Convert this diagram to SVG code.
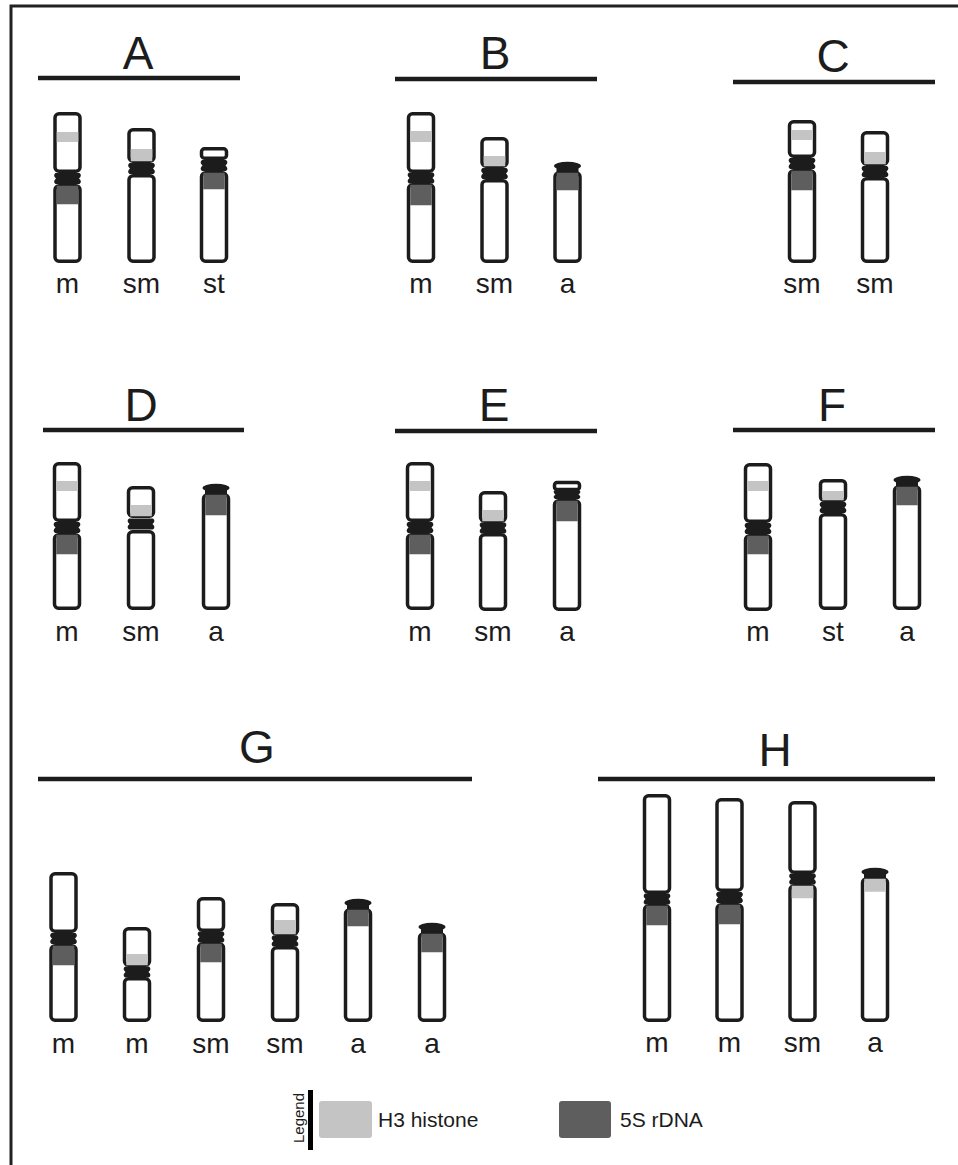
<svg xmlns="http://www.w3.org/2000/svg" xmlns:xlink="http://www.w3.org/1999/xlink" width="958" height="1165" viewBox="0 0 958 1165">
  <style>
    .arm { fill: #ffffff; stroke: #1c1c1c; stroke-width: 3.5; }
    .h3 { fill: #c4c4c4; }
    .s5 { fill: #5e5e5e; }
    .dark { fill: #1c1c1c; }
    .rule { stroke: #1c1c1c; stroke-width: 4.5; }
    .title { font-family: "Liberation Sans", Arial, sans-serif; font-size: 46px; fill: #1c1c1c; text-anchor: middle; }
    .lbl { font-family: "Liberation Sans", Arial, sans-serif; font-size: 28px; fill: #1c1c1c; text-anchor: middle; }
    .leg { font-family: "Liberation Sans", Arial, sans-serif; font-size: 21px; fill: #1c1c1c; }
  </style>
  <defs>
    <!-- centromere constriction, centred on (0,0) -->
    <path id="cen" class="dark" d="M-12,-5.5 H12 Q15,-3 11.5,0 Q15,3 12,5.5 H-12 Q-15,3 -11.5,0 Q-15,-3 -12,-5.5 Z"/>
    <!-- terminal cap of an acrocentric chromosome, bottom edge at y=0 -->
    <g id="cap" class="dark">
      <ellipse cx="0" cy="-5" rx="13.5" ry="4.2"/>
      <rect x="-11" y="-5" width="22" height="6"/>
    </g>
  </defs>

  <rect x="0" y="0" width="958" height="1165" fill="#ffffff"/>
  <path d="M11,1165 V6 H958" fill="none" stroke="#222222" stroke-width="3"/>

  <!-- ===== A ===== -->
  <g id="panel-A">
    <text class="title" x="138" y="69">A</text>
    <line class="rule" x1="38" y1="78" x2="240" y2="78"/>
    <g id="A-m">
      <rect class="arm" x="55" y="113.75" width="25" height="57.5" rx="4"/>
      <rect class="h3" x="56.75" y="132" width="21.5" height="10"/>
      <rect class="arm" x="55" y="185.75" width="25" height="75.5" rx="4"/>
      <rect class="s5" x="56.75" y="185.75" width="21.5" height="18.5"/>
      <use xlink:href="#cen" transform="translate(67.5,178.5)"/>
      <text class="lbl" x="67.5" y="293">m</text>
    </g>
    <g id="A-sm">
      <rect class="arm" x="129" y="129.75" width="25" height="31.5" rx="4"/>
      <rect class="h3" x="130.75" y="149" width="21.5" height="12.25"/>
      <rect class="arm" x="129" y="175.75" width="25" height="85.5" rx="4"/>
      <use xlink:href="#cen" transform="translate(141.5,168.5)"/>
      <text class="lbl" x="141.5" y="293">sm</text>
    </g>
    <g id="A-st">
      <rect class="arm" x="201.5" y="148.75" width="25" height="9.5" rx="3"/>
      <rect class="arm" x="201.5" y="172.75" width="25" height="88.5" rx="4"/>
      <rect class="s5" x="203.25" y="172.75" width="21.5" height="16.5"/>
      <use xlink:href="#cen" transform="translate(214,165.5)"/>
      <text class="lbl" x="214" y="293">st</text>
    </g>
  </g>

  <!-- ===== B ===== -->
  <g id="panel-B">
    <text class="title" x="495" y="69">B</text>
    <line class="rule" x1="395" y1="79" x2="597" y2="79"/>
    <g id="B-m">
      <rect class="arm" x="408.5" y="113.75" width="25" height="57.5" rx="4"/>
      <rect class="h3" x="410.25" y="131" width="21.5" height="11"/>
      <rect class="arm" x="408.5" y="184.75" width="25" height="76.5" rx="4"/>
      <rect class="s5" x="410.25" y="184.75" width="21.5" height="20.5"/>
      <use xlink:href="#cen" transform="translate(421,178)"/>
      <text class="lbl" x="421" y="293">m</text>
    </g>
    <g id="B-sm">
      <rect class="arm" x="482" y="138.75" width="25" height="27.5" rx="4"/>
      <rect class="h3" x="483.75" y="156" width="21.5" height="10.25"/>
      <rect class="arm" x="482" y="180.75" width="25" height="80.5" rx="4"/>
      <use xlink:href="#cen" transform="translate(494.5,173.5)"/>
      <text class="lbl" x="494.5" y="293">sm</text>
    </g>
    <g id="B-a">
      <rect class="arm" x="555" y="172.75" width="25" height="88.5" rx="4"/>
      <rect class="s5" x="556.75" y="172.75" width="21.5" height="17.5"/>
      <use xlink:href="#cap" transform="translate(567.5,171)"/>
      <text class="lbl" x="567.5" y="293">a</text>
    </g>
  </g>

  <!-- ===== C ===== -->
  <g id="panel-C">
    <text class="title" x="833" y="72">C</text>
    <line class="rule" x1="733" y1="82" x2="935" y2="82"/>
    <g id="C-sm1">
      <rect class="arm" x="789.5" y="121.75" width="25" height="34.5" rx="4"/>
      <rect class="h3" x="791.25" y="130" width="21.5" height="10"/>
      <rect class="arm" x="789.5" y="170.75" width="25" height="90.5" rx="4"/>
      <rect class="s5" x="791.25" y="170.75" width="21.5" height="19.5"/>
      <use xlink:href="#cen" transform="translate(802,163.5)"/>
      <text class="lbl" x="802" y="293">sm</text>
    </g>
    <g id="C-sm2">
      <rect class="arm" x="862.5" y="132.75" width="25" height="31.5" rx="4"/>
      <rect class="h3" x="864.25" y="152" width="21.5" height="12.25"/>
      <rect class="arm" x="862.5" y="178.75" width="25" height="82.5" rx="4"/>
      <use xlink:href="#cen" transform="translate(875,171.5)"/>
      <text class="lbl" x="875" y="293">sm</text>
    </g>
  </g>

  <!-- ===== D ===== -->
  <g id="panel-D">
    <text class="title" x="141" y="421">D</text>
    <line class="rule" x1="43" y1="430" x2="244" y2="430"/>
    <g id="D-m">
      <rect class="arm" x="54.5" y="463.75" width="25" height="56.5" rx="4"/>
      <rect class="h3" x="56.25" y="481" width="21.5" height="10"/>
      <rect class="arm" x="54.5" y="534.75" width="25" height="73.5" rx="4"/>
      <rect class="s5" x="56.25" y="534.75" width="21.5" height="19.5"/>
      <use xlink:href="#cen" transform="translate(67,527.5)"/>
      <text class="lbl" x="67" y="641">m</text>
    </g>
    <g id="D-sm">
      <rect class="arm" x="128.5" y="487.75" width="25" height="28.5" rx="4"/>
      <rect class="h3" x="130.25" y="505" width="21.5" height="11.25"/>
      <rect class="arm" x="128.5" y="531.75" width="25" height="76.5" rx="4"/>
      <use xlink:href="#cen" transform="translate(141,524)"/>
      <text class="lbl" x="141" y="641">sm</text>
    </g>
    <g id="D-a">
      <rect class="arm" x="203.5" y="494.75" width="25" height="113.5" rx="4"/>
      <rect class="s5" x="205.25" y="494.75" width="21.5" height="20.5"/>
      <use xlink:href="#cap" transform="translate(216,493)"/>
      <text class="lbl" x="216" y="641">a</text>
    </g>
  </g>

  <!-- ===== E ===== -->
  <g id="panel-E">
    <text class="title" x="494" y="421">E</text>
    <line class="rule" x1="395" y1="431" x2="597" y2="431"/>
    <g id="E-m">
      <rect class="arm" x="407.5" y="463.75" width="25" height="56.5" rx="4"/>
      <rect class="h3" x="409.25" y="481" width="21.5" height="10"/>
      <rect class="arm" x="407.5" y="534.75" width="25" height="73.5" rx="4"/>
      <rect class="s5" x="409.25" y="534.75" width="21.5" height="19.5"/>
      <use xlink:href="#cen" transform="translate(420,527.5)"/>
      <text class="lbl" x="420" y="641">m</text>
    </g>
    <g id="E-sm">
      <rect class="arm" x="480.5" y="492.75" width="25" height="28.5" rx="4"/>
      <rect class="h3" x="482.25" y="510" width="21.5" height="11.25"/>
      <rect class="arm" x="480.5" y="534.75" width="25" height="74.5" rx="4"/>
      <use xlink:href="#cen" transform="translate(493,528)"/>
      <text class="lbl" x="493" y="641">sm</text>
    </g>
    <g id="E-a">
      <rect class="arm" x="554.5" y="482.5" width="25" height="7" rx="2.5"/>
      <rect class="arm" x="554.5" y="500.75" width="25" height="108.5" rx="4"/>
      <rect class="s5" x="556.25" y="500.75" width="21.5" height="20.5"/>
      <use xlink:href="#cen" transform="translate(567,494.5) scale(1,0.8)"/>
      <text class="lbl" x="567" y="641">a</text>
    </g>
  </g>

  <!-- ===== F ===== -->
  <g id="panel-F">
    <text class="title" x="832" y="421">F</text>
    <line class="rule" x1="733" y1="430" x2="935" y2="430"/>
    <g id="F-m">
      <rect class="arm" x="745.5" y="464.75" width="25" height="56.5" rx="4"/>
      <rect class="h3" x="747.25" y="481" width="21.5" height="10"/>
      <rect class="arm" x="745.5" y="535.75" width="25" height="73.5" rx="4"/>
      <rect class="s5" x="747.25" y="535.75" width="21.5" height="18.5"/>
      <use xlink:href="#cen" transform="translate(758,528.5)"/>
      <text class="lbl" x="758" y="641">m</text>
    </g>
    <g id="F-st">
      <rect class="arm" x="820.5" y="480.75" width="25" height="19.5" rx="3.5"/>
      <rect class="h3" x="822.25" y="491" width="21.5" height="9.25"/>
      <rect class="arm" x="820.5" y="514.75" width="25" height="93.5" rx="4"/>
      <use xlink:href="#cen" transform="translate(833,507.5)"/>
      <text class="lbl" x="833" y="641">st</text>
    </g>
    <g id="F-a">
      <rect class="arm" x="894.5" y="486.75" width="25" height="121.5" rx="4"/>
      <rect class="s5" x="896.25" y="486.75" width="21.5" height="18.5"/>
      <use xlink:href="#cap" transform="translate(907,485)"/>
      <text class="lbl" x="907" y="641">a</text>
    </g>
  </g>

  <!-- ===== G ===== -->
  <g id="panel-G">
    <text class="title" x="257" y="763">G</text>
    <line class="rule" x1="38" y1="779" x2="472" y2="779"/>
    <g id="G-m1">
      <rect class="arm" x="51" y="873.75" width="25" height="57.5" rx="4"/>
      <rect class="arm" x="51" y="945.75" width="25" height="74.5" rx="4"/>
      <rect class="s5" x="52.75" y="945.75" width="21.5" height="19.5"/>
      <use xlink:href="#cen" transform="translate(63.5,938.5)"/>
      <text class="lbl" x="63.5" y="1053">m</text>
    </g>
    <g id="G-m2">
      <rect class="arm" x="124.5" y="928.75" width="25" height="36.5" rx="4"/>
      <rect class="h3" x="126.25" y="954" width="21.5" height="11.25"/>
      <rect class="arm" x="124.5" y="978.75" width="25" height="41.5" rx="4"/>
      <use xlink:href="#cen" transform="translate(137,972)"/>
      <text class="lbl" x="137" y="1053">m</text>
    </g>
    <g id="G-sm1">
      <rect class="arm" x="198.5" y="898.75" width="25" height="31.5" rx="4"/>
      <rect class="arm" x="198.5" y="943.75" width="25" height="76.5" rx="4"/>
      <rect class="s5" x="200.25" y="943.75" width="21.5" height="18.5"/>
      <use xlink:href="#cen" transform="translate(211,937)"/>
      <text class="lbl" x="211" y="1053">sm</text>
    </g>
    <g id="G-sm2">
      <rect class="arm" x="272.5" y="904.75" width="25" height="29.5" rx="4"/>
      <rect class="h3" x="274.25" y="920" width="21.5" height="14.25"/>
      <rect class="arm" x="272.5" y="947.75" width="25" height="72.5" rx="4"/>
      <use xlink:href="#cen" transform="translate(285,941)"/>
      <text class="lbl" x="285" y="1053">sm</text>
    </g>
    <g id="G-a1">
      <rect class="arm" x="345.5" y="909.75" width="25" height="110.5" rx="4"/>
      <rect class="s5" x="347.25" y="909.75" width="21.5" height="16.5"/>
      <use xlink:href="#cap" transform="translate(358,908)"/>
      <text class="lbl" x="358" y="1053">a</text>
    </g>
    <g id="G-a2">
      <rect class="arm" x="419.5" y="933.75" width="25" height="86.5" rx="4"/>
      <rect class="s5" x="421.25" y="933.75" width="21.5" height="18.5"/>
      <use xlink:href="#cap" transform="translate(432,932)"/>
      <text class="lbl" x="432" y="1053">a</text>
    </g>
  </g>

  <!-- ===== H ===== -->
  <g id="panel-H">
    <text class="title" x="775" y="766">H</text>
    <line class="rule" x1="598" y1="779" x2="935" y2="779"/>
    <g id="H-m1">
      <rect class="arm" x="644.5" y="795.75" width="25" height="96.5" rx="4"/>
      <rect class="arm" x="644.5" y="905.75" width="25" height="114.5" rx="4"/>
      <rect class="s5" x="646.25" y="905.75" width="21.5" height="19.5"/>
      <use xlink:href="#cen" transform="translate(657,899)"/>
      <text class="lbl" x="657" y="1052">m</text>
    </g>
    <g id="H-m2">
      <rect class="arm" x="717" y="799.75" width="25" height="90.5" rx="4"/>
      <rect class="arm" x="717" y="904.75" width="25" height="115.5" rx="4"/>
      <rect class="s5" x="718.75" y="904.75" width="21.5" height="19.5"/>
      <use xlink:href="#cen" transform="translate(729.5,897.5)"/>
      <text class="lbl" x="729.5" y="1052">m</text>
    </g>
    <g id="H-sm">
      <rect class="arm" x="790" y="802.75" width="25" height="69.5" rx="4"/>
      <rect class="arm" x="790" y="885.75" width="25" height="134.5" rx="4"/>
      <rect class="h3" x="791.75" y="885.75" width="21.5" height="12.5"/>
      <use xlink:href="#cen" transform="translate(802.5,879)"/>
      <text class="lbl" x="802.5" y="1052">sm</text>
    </g>
    <g id="H-a">
      <rect class="arm" x="862.5" y="878.75" width="25" height="141.5" rx="4"/>
      <rect class="h3" x="864.25" y="878.75" width="21.5" height="13"/>
      <use xlink:href="#cap" transform="translate(875,877)"/>
      <text class="lbl" x="875" y="1052">a</text>
    </g>
  </g>

  <!-- ===== legend ===== -->
  <g id="legend">
    <text class="leg" transform="translate(304,1118) rotate(-90)" text-anchor="middle" style="font-size:15px">Legend</text>
    <rect x="308" y="1090" width="5" height="60" fill="#000000"/>
    <rect class="h3" x="319" y="1101" width="53" height="37" rx="3"/>
    <text class="leg" x="378" y="1127">H3 histone</text>
    <rect class="s5" x="559" y="1101" width="52" height="37" rx="3"/>
    <text class="leg" x="620" y="1127">5S rDNA</text>
  </g>
</svg>
